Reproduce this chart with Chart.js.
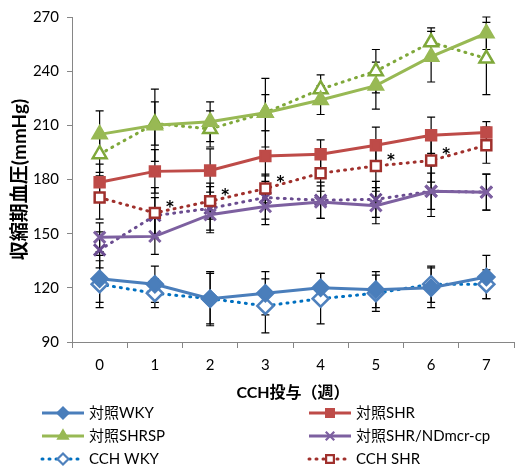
<!DOCTYPE html>
<html><head><meta charset="utf-8">
<script src="https://cdn.jsdelivr.net/npm/chart.js@4/dist/chart.umd.min.js"></script>
<style>html,body{margin:0;padding:0;overflow:hidden;background:#fff;width:515px;height:470px}canvas{display:block}</style>
</head><body>
<canvas id="c" width="525" height="470"></canvas>
<script>
const weeks = ['0','1','2','3','4','5','6','7'];
const yTicks = [90,120,150,180,210,240,270];

const ctrlWKY   = [125,122,114,117,120,119,120,126];
const ctrlSHR   = [178.5,184.5,185,193,194,199,204.5,206];
const ctrlSHRSP = [205,210,212,217,224,232,248,261];
const ctrlND    = [148,148.5,160.5,165,167.5,165.5,173.5,173];
const cchWKY    = [122,117,114,110,114,117,122,122];
const cchSHR    = [170,161.5,168,175,183.5,187.5,190.5,199];
const cchSHRSP  = [194,211,208,217,230,240,256,247];
const cchND     = [141,160,164,170,168.5,169,173.5,173];

const errCtrlWKY   = [13,10,14,12,8,10,11,12];
const errCtrlSHR   = [10,12,12,14,8,10,10,6];
const errCtrlSHRSP = [13,20,11,19,8,13,14,9];
const errCtrlND    = [8,10,10,10,9,10,14,10];
const errCchWKY    = [13,8,15,15,14,10,10,8];
const errCchSHR    = [12,14,10,8,10,14,12,10];
const errCchSHRSP  = [10,12,10,10,8,12,8,20];
const errCchND     = [10,10,12,12,10,10,10,10];

const starIdx = [1,2,3,5,6];

const FONT = "Lato, 'Noto Sans CJK JP', sans-serif";

function ds(label, data, err, color, ptColor, style, dotted, fill){
  return {
    label, data, err,
    borderColor: color,
    backgroundColor: fill ? ptColor : '#ffffff',
    pointBorderColor: ptColor,
    pointBackgroundColor: fill ? ptColor : '#ffffff',
    pointStyle: style,
    pointRadius: style==='crossRot' ? 8 : (style==='rect' ? 7 : 8),
    pointBorderWidth: style==='crossRot' ? 3 : 2.5,
    borderWidth: 3,
    borderDash: dotted ? [1,6] : [],
    borderCapStyle: dotted ? 'round' : 'butt',
    tension: 0,
    fill: false,
    dotted
  };
}

const datasets = [
  ds('対照WKY', ctrlWKY, errCtrlWKY, '#4a7ebb', '#4a7ebb', 'rectRot', false, true),
  ds('対照SHR', ctrlSHR, errCtrlSHR, '#be4b48', '#be4b48', 'rect', false, true),
  ds('対照SHRSP', ctrlSHRSP, errCtrlSHRSP, '#98b954', '#98b954', 'triangle', false, true),
  ds('対照SHR/NDmcr-cp', ctrlND, errCtrlND, '#7d60a0', '#7d60a0', 'crossRot', false, true),
  ds('CCH WKY', cchWKY, errCchWKY, '#0070c0', '#4f81bd', 'rectRot', true, false),
  ds('CCH SHR', cchSHR, errCchSHR, '#a0302c', '#a0302c', 'rect', true, false),
  ds('CCH SHRSP', cchSHRSP, errCchSHRSP, '#7fa83a', '#7fa83a', 'triangle', true, false),
  ds('CCH SHR/NDmcr-cp', cchND, errCchND, '#6a4c90', '#6a4c90', 'crossRot', true, false)
];

const errorBars = {
  id:'errorBars',
  beforeDatasetsDraw(chart){
    const {ctx, scales:{x,y}} = chart;
    ctx.save();
    ctx.strokeStyle = '#000';
    ctx.lineWidth = 1.2;
    chart.data.datasets.forEach(d=>{
      d.data.forEach((v,i)=>{
        const px = x.getPixelForValue(i);
        const y1 = y.getPixelForValue(v + d.err[i]);
        const y2 = y.getPixelForValue(v - d.err[i]);
        ctx.beginPath();
        ctx.moveTo(px,y1); ctx.lineTo(px,y2);
        ctx.moveTo(px-4,y1); ctx.lineTo(px+4,y1);
        ctx.moveTo(px-4,y2); ctx.lineTo(px+4,y2);
        ctx.stroke();
      });
    });
    ctx.restore();
  }
};

const stars = {
  id:'stars',
  afterDatasetsDraw(chart){
    const {ctx, scales:{x,y}} = chart;
    ctx.save();
    ctx.fillStyle = '#000';
    ctx.font = "bold 15px 'DejaVu Sans', sans-serif";
    ctx.textAlign = 'center';
    ctx.textBaseline = 'middle';
    starIdx.forEach(i=>{
      ctx.fillText('*', x.getPixelForValue(i)+15, y.getPixelForValue(cchSHR[i])-5);
    });
    ctx.restore();
  }
};

const legendItems = [0,1,2,3,4,5,6,7];
const customLegend = {
  id:'customLegend',
  afterDraw(chart){
    const {ctx} = chart;
    ctx.save();
    ctx.font = "15px " + FONT;
    ctx.textBaseline = 'middle';
    ctx.fillStyle = '#000';
    legendItems.forEach((k, n)=>{
      const d = chart.data.datasets[k];
      const col = n % 2, row = Math.floor(n/2);
      const x0 = col===0 ? 42 : 309;
      const yy = 413 + row*23;
      ctx.save();
      ctx.strokeStyle = d.borderColor;
      ctx.lineWidth = 3;
      ctx.lineCap = d.dotted ? 'round' : 'butt';
      ctx.setLineDash(d.dotted ? [1,6] : []);
      ctx.beginPath(); ctx.moveTo(x0, yy); ctx.lineTo(x0+42, yy); ctx.stroke();
      ctx.restore();
      ctx.save();
      ctx.fillStyle = d.pointBackgroundColor; ctx.strokeStyle = d.pointBorderColor; ctx.lineWidth = 2.2;
      ctx.setLineDash([]);
      Chart.helpers.drawPoint(ctx, {pointStyle: d.pointStyle, radius: d.pointStyle==='crossRot'?6:5.5, rotation:0, borderWidth:2.2}, x0+21, yy);
      ctx.restore();
      ctx.fillStyle = '#000';
      ctx.fillText(d.label, x0+47, yy);
    });
    ctx.restore();
  }
};

new Chart(document.getElementById('c'), {
  type:'line',
  data:{labels: weeks, datasets},
  options:{
    responsive:false,
    animation:false,
    layout:{padding:{left:0, right:5, top:16, bottom:68}},
    plugins:{legend:{display:false}, tooltip:{enabled:false}},
    scales:{
      x:{
        offset:true,
        grid:{offset:true, drawOnChartArea:false, drawTicks:true, tickLength:6, color:'#868686'},
        border:{color:'#868686', width:1},
        ticks:{color:'#000', font:{family:FONT, size:15}, padding:8},
        title:{display:true, text:'CCH投与（週）', color:'#000', font:{family:FONT, size:16, weight:'bold'}, padding:{top:3,bottom:0}},
        afterFit(s){ s.height = 60; }
      },
      y:{
        min:90, max:270,
        afterBuildTicks(s){ s.ticks = yTicks.map(v=>({value:v})); },
        grid:{drawOnChartArea:false, drawTicks:true, tickLength:5, color:'#868686'},
        border:{color:'#868686', width:1},
        ticks:{color:'#000', font:{family:FONT, size:15}, padding:8},
        title:{display:true, text:'収縮期血圧(mmHg)', color:'#000', font:{family:FONT, size:19, weight:'bold'}, padding:{top:8,bottom:0}},
        afterFit(s){ s.width = 72; }
      }
    }
  },
  plugins:[errorBars, stars, customLegend]
});
</script>
</body></html>
